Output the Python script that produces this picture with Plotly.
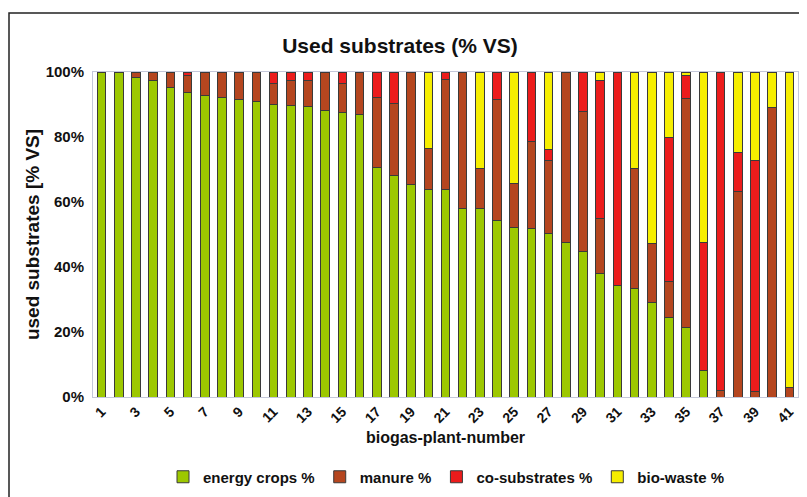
import plotly.graph_objects as go

plants = list(range(1, 42))
tick_vals = list(range(1, 42, 2))
tick_text = [str(v) for v in tick_vals]
y_ticks = [0, 20, 40, 60, 80, 100]
y_tick_text = ["0%", "20%", "40%", "60%", "80%", "100%"]

energy_crops = [100, 100, 98.4, 97.4, 95.1, 93.8, 92.8, 92.1, 91.6, 91.0,
                90.0, 89.7, 89.4, 88.2, 87.6, 86.8, 70.6, 68.3, 65.5, 64.0,
                63.7, 58.0, 58.0, 54.4, 52.2, 51.9, 50.4, 47.4, 44.8, 37.9,
                34.3, 33.3, 29.2, 24.6, 21.5, 8.2, 0, 0, 0, 0, 0]
manure = [0, 0, 1.6, 2.6, 4.9, 5.2, 7.2, 7.9, 8.4, 9.0,
          6.5, 7.8, 8.1, 11.8, 8.8, 13.2, 21.7, 21.9, 34.5, 12.6,
          34.0, 42.0, 12.4, 37.2, 13.5, 26.6, 22.3, 52.6, 43.2, 16.9,
          0, 36.9, 17.9, 10.8, 70.5, 0, 2.0, 63.3, 1.8, 89.2, 3.0]
co_substrates = [0, 0, 0, 0, 0, 1.0, 0, 0, 0, 0,
                 3.5, 2.5, 2.5, 0, 3.6, 0, 7.7, 9.8, 0, 0,
                 2.3, 0, 0, 8.4, 0, 21.5, 3.6, 0, 12.0, 42.6,
                 65.7, 0, 0, 44.6, 7.0, 39.4, 98.0, 12.0, 71.0, 0, 0]
bio_waste = [0, 0, 0, 0, 0, 0, 0, 0, 0, 0,
             0, 0, 0, 0, 0, 0, 0, 0, 0, 23.4,
             0, 0, 29.6, 0, 34.3, 0, 23.7, 0, 0, 2.6,
             0, 29.8, 52.9, 20.0, 1.0, 52.4, 0, 24.7, 27.2, 10.8, 97.0]

series = [
    ("energy crops %", energy_crops, "#9dc800"),
    ("manure %", manure, "#b5461f"),
    ("co-substrates %", co_substrates, "#ec1c1c"),
    ("bio-waste %", bio_waste, "#f6ee00"),
]

FONT = "Liberation Sans, Arial, sans-serif"
OFF = 8  # page body margin offset
W, H = 807 - OFF, 497 - OFF
L, T = 93 - OFF, 72 - OFF
R = 9
PH = 325
B = H - T - PH
PW = W - L - R

fig = go.Figure()
for name, vals, col in series:
    fig.add_trace(go.Bar(
        x=plants, y=vals, name=name,
        marker=dict(color=col, line=dict(color="#3a3a3a", width=1)),
    ))

def px_x(p):
    return (p - OFF - L) / PW

def px_y(p):
    return (T + PH - (p - OFF)) / PH

bold = dict(family=FONT, color="#111", weight="bold")

fig.update_layout(
    width=W, height=H,
    barmode="stack", bargap=0.5,
    plot_bgcolor="white", paper_bgcolor="white",
    margin=dict(l=L, r=R, t=T, b=B, autoexpand=False),
    font=dict(family=FONT, color="#111111"),
    title=dict(text="<b>Used substrates (% VS)</b>", x=(400 - OFF) / W, xanchor="center",
               y=1 - (46 - OFF) / H, yanchor="middle", font=dict(size=21, family=FONT, color="#111")),
    legend=dict(orientation="h", x=px_x(446), xanchor="center", y=px_y(477), yanchor="middle",
                font=dict(size=15, **bold), itemwidth=30,
                traceorder="normal", bgcolor="rgba(0,0,0,0)"),
    xaxis=dict(range=[0.5, 41.5], tickmode="array", tickvals=tick_vals, ticktext=tick_text,
               tickangle=-45, tickfont=dict(size=14, **bold),
               showline=True, linecolor="#c4c8da", linewidth=1, mirror=True, showgrid=False,
               ticks="", zeroline=False,
               title=dict(text="<b>biogas-plant-number</b>", font=dict(size=16, family=FONT, color="#111"),
                          standoff=6)),
    yaxis=dict(range=[0, 100], tickmode="array", tickvals=y_ticks, ticktext=y_tick_text,
               tickfont=dict(size=15, **bold), ticklabelstandoff=5,
               showline=True, linecolor="#c4c8da", linewidth=1, mirror=True, showgrid=False,
               ticks="", zeroline=False,
               title=dict(text="<b>used substrates [% VS]</b>", font=dict(size=19, family=FONT, color="#111"),
                          standoff=0)),
    shapes=[dict(type="rect", xref="paper", yref="paper",
                 x0=px_x(9), x1=px_x(815), y0=px_y(505), y1=px_y(13),
                 line=dict(color="#222", width=1.5), layer="below")],
)

fig.write_html("out.html")
